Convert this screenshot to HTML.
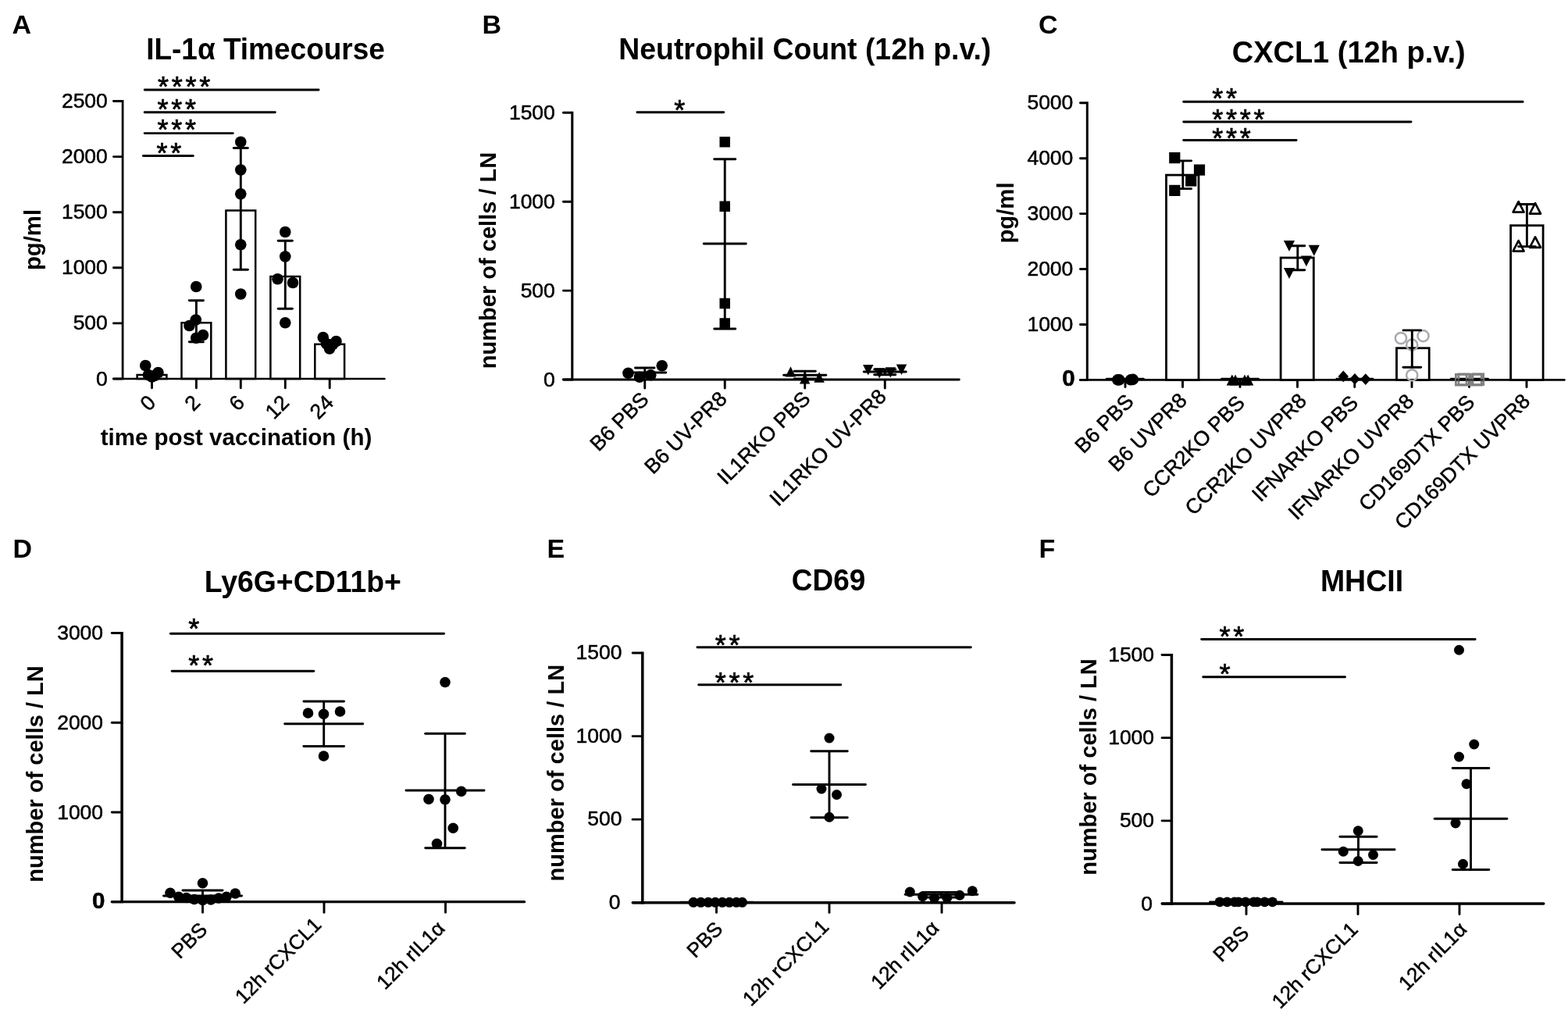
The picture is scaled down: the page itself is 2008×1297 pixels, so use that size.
<!DOCTYPE html>
<html lang="en"><head><meta charset="utf-8"><title>Figure</title>
<style>
html,body{margin:0;padding:0;background:#fff;}
body{width:2008px;height:1297px;overflow:hidden;}
svg{display:block;font-family:"Liberation Sans",Arial,Helvetica,sans-serif;fill:#000;}
</style></head><body>
<svg width="2008" height="1297" viewBox="0 0 2008 1297">
<rect x="0" y="0" width="2008" height="1297" fill="#fff"/>
<text transform="translate(15.50 42.50) scale(1 1.0)" font-size="34" font-weight="bold" text-anchor="start">A</text>
<text transform="translate(340.00 76.30) scale(1 1.035)" font-size="37" font-weight="bold" text-anchor="middle">IL-1α Timecourse</text>
<rect x="175.60" y="480.00" width="37.80" height="5.00" fill="#fff" stroke="#000" stroke-width="2.5"/>
<rect x="232.50" y="413.25" width="37.80" height="71.75" fill="#fff" stroke="#000" stroke-width="2.5"/>
<rect x="289.40" y="269.50" width="37.80" height="215.50" fill="#fff" stroke="#000" stroke-width="2.5"/>
<rect x="346.40" y="354.00" width="37.80" height="131.00" fill="#fff" stroke="#000" stroke-width="2.5"/>
<rect x="403.30" y="440.75" width="37.80" height="44.25" fill="#fff" stroke="#000" stroke-width="2.5"/>
<line x1="157.10" y1="128.05" x2="157.10" y2="486.30" stroke="#000" stroke-width="2.75" stroke-linecap="butt"/>
<line x1="145.30" y1="485.00" x2="492.45" y2="485.00" stroke="#000" stroke-width="2.6" stroke-linecap="round"/>
<line x1="145.45" y1="485.00" x2="155.65" y2="485.00" stroke="#000" stroke-width="2.9" stroke-linecap="round"/>
<text transform="translate(137.85 493.54) scale(1 1.0)" font-size="26.5" font-weight="normal" text-anchor="end" stroke="#000" stroke-width="0.5">0</text>
<line x1="145.45" y1="413.90" x2="155.65" y2="413.90" stroke="#000" stroke-width="2.9" stroke-linecap="round"/>
<text transform="translate(137.85 422.44) scale(1 1.0)" font-size="26.5" font-weight="normal" text-anchor="end" stroke="#000" stroke-width="0.5">500</text>
<line x1="145.45" y1="342.80" x2="155.65" y2="342.80" stroke="#000" stroke-width="2.9" stroke-linecap="round"/>
<text transform="translate(137.85 351.34) scale(1 1.0)" font-size="26.5" font-weight="normal" text-anchor="end" stroke="#000" stroke-width="0.5">1000</text>
<line x1="145.45" y1="271.70" x2="155.65" y2="271.70" stroke="#000" stroke-width="2.9" stroke-linecap="round"/>
<text transform="translate(137.85 280.24) scale(1 1.0)" font-size="26.5" font-weight="normal" text-anchor="end" stroke="#000" stroke-width="0.5">1500</text>
<line x1="145.45" y1="200.60" x2="155.65" y2="200.60" stroke="#000" stroke-width="2.9" stroke-linecap="round"/>
<text transform="translate(137.85 209.14) scale(1 1.0)" font-size="26.5" font-weight="normal" text-anchor="end" stroke="#000" stroke-width="0.5">2000</text>
<line x1="145.45" y1="129.50" x2="155.65" y2="129.50" stroke="#000" stroke-width="2.9" stroke-linecap="round"/>
<text transform="translate(137.85 138.04) scale(1 1.0)" font-size="26.5" font-weight="normal" text-anchor="end" stroke="#000" stroke-width="0.5">2500</text>
<line x1="194.50" y1="486.45" x2="194.50" y2="496.75" stroke="#000" stroke-width="2.9" stroke-linecap="round"/>
<text transform="translate(201.00 517.00) rotate(-45) scale(1 1.0)" font-size="26.6" font-weight="normal" text-anchor="end" stroke="#000" stroke-width="0.5">0</text>
<line x1="251.40" y1="486.45" x2="251.40" y2="496.75" stroke="#000" stroke-width="2.9" stroke-linecap="round"/>
<text transform="translate(257.90 517.00) rotate(-45) scale(1 1.0)" font-size="26.6" font-weight="normal" text-anchor="end" stroke="#000" stroke-width="0.5">2</text>
<line x1="308.30" y1="486.45" x2="308.30" y2="496.75" stroke="#000" stroke-width="2.9" stroke-linecap="round"/>
<text transform="translate(314.80 517.00) rotate(-45) scale(1 1.0)" font-size="26.6" font-weight="normal" text-anchor="end" stroke="#000" stroke-width="0.5">6</text>
<line x1="365.30" y1="486.45" x2="365.30" y2="496.75" stroke="#000" stroke-width="2.9" stroke-linecap="round"/>
<text transform="translate(371.80 517.00) rotate(-45) scale(1 1.0)" font-size="26.6" font-weight="normal" text-anchor="end" stroke="#000" stroke-width="0.5">12</text>
<line x1="422.20" y1="486.45" x2="422.20" y2="496.75" stroke="#000" stroke-width="2.9" stroke-linecap="round"/>
<text transform="translate(428.70 517.00) rotate(-45) scale(1 1.0)" font-size="26.6" font-weight="normal" text-anchor="end" stroke="#000" stroke-width="0.5">24</text>
<line x1="251.40" y1="386.20" x2="251.40" y2="436.30" stroke="#000" stroke-width="2.9" stroke-linecap="round"/>
<line x1="242.35" y1="384.75" x2="260.45" y2="384.75" stroke="#000" stroke-width="2.9" stroke-linecap="round"/>
<line x1="242.35" y1="437.75" x2="260.45" y2="437.75" stroke="#000" stroke-width="2.9" stroke-linecap="round"/>
<line x1="308.30" y1="190.95" x2="308.30" y2="343.80" stroke="#000" stroke-width="2.9" stroke-linecap="round"/>
<line x1="299.25" y1="189.50" x2="317.35" y2="189.50" stroke="#000" stroke-width="2.9" stroke-linecap="round"/>
<line x1="299.25" y1="345.25" x2="317.35" y2="345.25" stroke="#000" stroke-width="2.9" stroke-linecap="round"/>
<line x1="365.30" y1="309.70" x2="365.30" y2="393.80" stroke="#000" stroke-width="2.9" stroke-linecap="round"/>
<line x1="356.25" y1="308.25" x2="374.35" y2="308.25" stroke="#000" stroke-width="2.9" stroke-linecap="round"/>
<line x1="356.25" y1="395.25" x2="374.35" y2="395.25" stroke="#000" stroke-width="2.9" stroke-linecap="round"/>
<line x1="422.20" y1="437.45" x2="422.20" y2="442.55" stroke="#000" stroke-width="2.9" stroke-linecap="round"/>
<line x1="416.65" y1="436.00" x2="427.75" y2="436.00" stroke="#000" stroke-width="2.9" stroke-linecap="round"/>
<line x1="416.65" y1="444.00" x2="427.75" y2="444.00" stroke="#000" stroke-width="2.9" stroke-linecap="round"/>
<circle cx="186.25" cy="468.00" r="7.3" fill="#000" stroke="none" stroke-width="0"/>
<circle cx="202.50" cy="477.00" r="7.3" fill="#000" stroke="none" stroke-width="0"/>
<circle cx="194.50" cy="482.50" r="7.3" fill="#000" stroke="none" stroke-width="0"/>
<circle cx="190.00" cy="480.00" r="7.3" fill="#000" stroke="none" stroke-width="0"/>
<circle cx="198.00" cy="481.00" r="7.3" fill="#000" stroke="none" stroke-width="0"/>
<circle cx="251.25" cy="367.00" r="7.3" fill="#000" stroke="none" stroke-width="0"/>
<circle cx="250.75" cy="409.50" r="7.3" fill="#000" stroke="none" stroke-width="0"/>
<circle cx="242.50" cy="417.00" r="7.3" fill="#000" stroke="none" stroke-width="0"/>
<circle cx="260.00" cy="429.00" r="7.3" fill="#000" stroke="none" stroke-width="0"/>
<circle cx="251.25" cy="432.75" r="7.3" fill="#000" stroke="none" stroke-width="0"/>
<circle cx="308.25" cy="181.75" r="7.3" fill="#000" stroke="none" stroke-width="0"/>
<circle cx="308.25" cy="217.50" r="7.3" fill="#000" stroke="none" stroke-width="0"/>
<circle cx="308.25" cy="248.25" r="7.3" fill="#000" stroke="none" stroke-width="0"/>
<circle cx="308.25" cy="313.25" r="7.3" fill="#000" stroke="none" stroke-width="0"/>
<circle cx="308.25" cy="376.50" r="7.3" fill="#000" stroke="none" stroke-width="0"/>
<circle cx="365.25" cy="297.00" r="7.3" fill="#000" stroke="none" stroke-width="0"/>
<circle cx="365.25" cy="328.50" r="7.3" fill="#000" stroke="none" stroke-width="0"/>
<circle cx="355.50" cy="357.25" r="7.3" fill="#000" stroke="none" stroke-width="0"/>
<circle cx="375.00" cy="362.00" r="7.3" fill="#000" stroke="none" stroke-width="0"/>
<circle cx="365.25" cy="413.25" r="7.3" fill="#000" stroke="none" stroke-width="0"/>
<circle cx="413.75" cy="432.00" r="7.3" fill="#000" stroke="none" stroke-width="0"/>
<circle cx="430.50" cy="437.00" r="7.3" fill="#000" stroke="none" stroke-width="0"/>
<circle cx="422.00" cy="446.50" r="7.3" fill="#000" stroke="none" stroke-width="0"/>
<circle cx="418.00" cy="440.00" r="7.3" fill="#000" stroke="none" stroke-width="0"/>
<circle cx="426.00" cy="441.00" r="7.3" fill="#000" stroke="none" stroke-width="0"/>
<line x1="185.20" y1="115.00" x2="408.05" y2="115.00" stroke="#000" stroke-width="2.9" stroke-linecap="round"/>
<text transform="translate(201.90 123.75) scale(1 1)" font-size="36" font-weight="normal" text-anchor="start" letter-spacing="3.75" stroke="#000" stroke-width="0.7">****</text>
<line x1="185.20" y1="143.75" x2="352.30" y2="143.75" stroke="#000" stroke-width="2.9" stroke-linecap="round"/>
<text transform="translate(201.40 152.75) scale(1 1)" font-size="36" font-weight="normal" text-anchor="start" letter-spacing="3.75" stroke="#000" stroke-width="0.7">***</text>
<line x1="185.20" y1="170.60" x2="298.25" y2="170.60" stroke="#000" stroke-width="2.9" stroke-linecap="round"/>
<text transform="translate(201.40 179.35) scale(1 1)" font-size="36" font-weight="normal" text-anchor="start" letter-spacing="3.75" stroke="#000" stroke-width="0.7">***</text>
<line x1="183.45" y1="199.50" x2="247.30" y2="199.50" stroke="#000" stroke-width="2.9" stroke-linecap="round"/>
<text transform="translate(200.60 209.40) scale(1 1)" font-size="36" font-weight="normal" text-anchor="start" letter-spacing="3.75" stroke="#000" stroke-width="0.7">**</text>
<text transform="translate(302.50 570.00) scale(1 1.0)" font-size="29.5" font-weight="bold" text-anchor="middle">time post vaccination (h)</text>
<text transform="translate(51.90 307.00) rotate(-90) scale(1 1.0)" font-size="29.3" font-weight="bold" text-anchor="middle">pg/ml</text>
<text transform="translate(617.50 42.50) scale(1 1.0)" font-size="34" font-weight="bold" text-anchor="start">B</text>
<text transform="translate(1030.75 76.30) scale(1 1.035)" font-size="37.4" font-weight="bold" text-anchor="middle">Neutrophil Count (12h p.v.)</text>
<line x1="732.80" y1="142.85" x2="732.80" y2="487.40" stroke="#000" stroke-width="3.1" stroke-linecap="butt"/>
<line x1="721.40" y1="486.00" x2="1228.35" y2="486.00" stroke="#000" stroke-width="2.8" stroke-linecap="round"/>
<line x1="721.45" y1="486.00" x2="731.35" y2="486.00" stroke="#000" stroke-width="2.9" stroke-linecap="round"/>
<text transform="translate(710.85 494.54) scale(1 1.0)" font-size="26.5" font-weight="normal" text-anchor="end" stroke="#000" stroke-width="0.5">0</text>
<line x1="721.45" y1="372.10" x2="731.35" y2="372.10" stroke="#000" stroke-width="2.9" stroke-linecap="round"/>
<text transform="translate(710.85 380.64) scale(1 1.0)" font-size="26.5" font-weight="normal" text-anchor="end" stroke="#000" stroke-width="0.5">500</text>
<line x1="721.45" y1="258.20" x2="731.35" y2="258.20" stroke="#000" stroke-width="2.9" stroke-linecap="round"/>
<text transform="translate(710.85 266.74) scale(1 1.0)" font-size="26.5" font-weight="normal" text-anchor="end" stroke="#000" stroke-width="0.5">1000</text>
<line x1="721.45" y1="144.30" x2="731.35" y2="144.30" stroke="#000" stroke-width="2.9" stroke-linecap="round"/>
<text transform="translate(710.85 152.84) scale(1 1.0)" font-size="26.5" font-weight="normal" text-anchor="end" stroke="#000" stroke-width="0.5">1500</text>
<line x1="825.75" y1="487.45" x2="825.75" y2="497.05" stroke="#000" stroke-width="2.9" stroke-linecap="round"/>
<text transform="translate(832.25 513.20) rotate(-45) scale(1 1.0)" font-size="26.6" font-weight="normal" text-anchor="end" stroke="#000" stroke-width="0.5">B6 PBS</text>
<line x1="928.25" y1="487.45" x2="928.25" y2="497.05" stroke="#000" stroke-width="2.9" stroke-linecap="round"/>
<text transform="translate(932.35 512.20) rotate(-45) scale(1 1.0)" font-size="26.6" font-weight="normal" text-anchor="end" stroke="#000" stroke-width="0.5">B6 UV-PR8</text>
<line x1="1030.75" y1="487.45" x2="1030.75" y2="497.05" stroke="#000" stroke-width="2.9" stroke-linecap="round"/>
<text transform="translate(1039.35 512.10) rotate(-45) scale(1 1.0)" font-size="26.6" font-weight="normal" text-anchor="end" stroke="#000" stroke-width="0.5">IL1RKO PBS</text>
<line x1="1133.25" y1="487.45" x2="1133.25" y2="497.05" stroke="#000" stroke-width="2.9" stroke-linecap="round"/>
<text transform="translate(1136.45 509.40) rotate(-45) scale(1 1.0)" font-size="26.6" font-weight="normal" text-anchor="end" stroke="#000" stroke-width="0.5">IL1RKO UV-PR8</text>
<line x1="825.75" y1="472.45" x2="825.75" y2="481.55" stroke="#000" stroke-width="2.9" stroke-linecap="round"/>
<line x1="813.45" y1="471.00" x2="838.05" y2="471.00" stroke="#000" stroke-width="2.9" stroke-linecap="round"/>
<line x1="813.45" y1="483.00" x2="838.05" y2="483.00" stroke="#000" stroke-width="2.9" stroke-linecap="round"/>
<line x1="798.70" y1="477.00" x2="852.80" y2="477.00" stroke="#000" stroke-width="2.9" stroke-linecap="round"/>
<line x1="928.25" y1="205.20" x2="928.25" y2="419.55" stroke="#000" stroke-width="2.9" stroke-linecap="round"/>
<line x1="914.70" y1="203.75" x2="941.80" y2="203.75" stroke="#000" stroke-width="2.9" stroke-linecap="round"/>
<line x1="914.70" y1="421.00" x2="941.80" y2="421.00" stroke="#000" stroke-width="2.9" stroke-linecap="round"/>
<line x1="901.20" y1="312.00" x2="955.30" y2="312.00" stroke="#000" stroke-width="2.9" stroke-linecap="round"/>
<line x1="1030.75" y1="476.70" x2="1030.75" y2="483.55" stroke="#000" stroke-width="2.9" stroke-linecap="round"/>
<line x1="1017.20" y1="475.25" x2="1044.30" y2="475.25" stroke="#000" stroke-width="2.9" stroke-linecap="round"/>
<line x1="1017.20" y1="485.00" x2="1044.30" y2="485.00" stroke="#000" stroke-width="2.9" stroke-linecap="round"/>
<line x1="1003.70" y1="480.25" x2="1057.80" y2="480.25" stroke="#000" stroke-width="2.9" stroke-linecap="round"/>
<line x1="1133.25" y1="474.45" x2="1133.25" y2="478.35" stroke="#000" stroke-width="2.9" stroke-linecap="round"/>
<line x1="1119.70" y1="473.00" x2="1146.80" y2="473.00" stroke="#000" stroke-width="2.9" stroke-linecap="round"/>
<line x1="1119.70" y1="479.80" x2="1146.80" y2="479.80" stroke="#000" stroke-width="2.9" stroke-linecap="round"/>
<line x1="1106.20" y1="476.00" x2="1160.30" y2="476.00" stroke="#000" stroke-width="2.9" stroke-linecap="round"/>
<circle cx="804.50" cy="477.75" r="7.3" fill="#000" stroke="none" stroke-width="0"/>
<circle cx="847.75" cy="468.25" r="7.3" fill="#000" stroke="none" stroke-width="0"/>
<circle cx="819.00" cy="482.75" r="7.3" fill="#000" stroke="none" stroke-width="0"/>
<circle cx="833.25" cy="480.25" r="7.3" fill="#000" stroke="none" stroke-width="0"/>
<rect x="921.50" y="175.00" width="13.5" height="13.5" fill="#000" stroke="none" stroke-width="0"/>
<rect x="921.50" y="257.50" width="13.5" height="13.5" fill="#000" stroke="none" stroke-width="0"/>
<rect x="921.50" y="381.75" width="13.5" height="13.5" fill="#000" stroke="none" stroke-width="0"/>
<rect x="921.50" y="407.25" width="13.5" height="13.5" fill="#000" stroke="none" stroke-width="0"/>
<polygon points="1012.50,469.20 1019.20,482.60 1005.80,482.60" fill="#000" stroke="none" stroke-width="0" stroke-linejoin="round"/>
<polygon points="1030.70,478.00 1037.40,491.40 1024.00,491.40" fill="#000" stroke="none" stroke-width="0" stroke-linejoin="round"/>
<polygon points="1049.10,476.30 1055.80,489.70 1042.40,489.70" fill="#000" stroke="none" stroke-width="0" stroke-linejoin="round"/>
<polygon points="1111.80,480.50 1118.50,467.10 1105.10,467.10" fill="#000" stroke="none" stroke-width="0"/>
<polygon points="1126.20,484.60 1132.90,471.20 1119.50,471.20" fill="#000" stroke="none" stroke-width="0"/>
<polygon points="1140.40,483.60 1147.10,470.20 1133.70,470.20" fill="#000" stroke="none" stroke-width="0"/>
<polygon points="1154.50,479.90 1161.20,466.50 1147.80,466.50" fill="#000" stroke="none" stroke-width="0"/>
<line x1="815.95" y1="143.75" x2="926.80" y2="143.75" stroke="#000" stroke-width="2.9" stroke-linecap="round"/>
<text transform="translate(863.20 153.75) scale(1 1)" font-size="36" font-weight="normal" text-anchor="start" letter-spacing="3.75" stroke="#000" stroke-width="0.7">*</text>
<text transform="translate(634.90 333.50) rotate(-90) scale(1 1.0)" font-size="29.05" font-weight="bold" text-anchor="middle">number of cells / LN</text>
<text transform="translate(1330.00 43.00) scale(1 1.0)" font-size="34" font-weight="bold" text-anchor="start">C</text>
<text transform="translate(1727.20 79.50) scale(1 1.035)" font-size="38" font-weight="bold" text-anchor="middle">CXCL1 (12h p.v.)</text>
<rect x="1493.50" y="224.10" width="41.50" height="262.30" fill="#fff" stroke="#000" stroke-width="2.8"/>
<rect x="1640.10" y="330.00" width="42.20" height="156.40" fill="#fff" stroke="#000" stroke-width="2.8"/>
<rect x="1788.50" y="445.70" width="41.70" height="40.70" fill="#fff" stroke="#000" stroke-width="2.8"/>
<rect x="1934.60" y="288.70" width="41.50" height="197.70" fill="#fff" stroke="#000" stroke-width="2.8"/>
<line x1="1392.30" y1="130.30" x2="1392.30" y2="487.70" stroke="#000" stroke-width="3.0" stroke-linecap="butt"/>
<line x1="1383.30" y1="486.40" x2="2003.40" y2="486.40" stroke="#000" stroke-width="2.6" stroke-linecap="round"/>
<line x1="1383.45" y1="486.40" x2="1390.85" y2="486.40" stroke="#000" stroke-width="2.9" stroke-linecap="round"/>
<text transform="translate(1376.65 494.38) scale(1 1.0)" font-size="29.5" font-weight="bold" text-anchor="end" stroke="#000" stroke-width="0.6">0</text>
<line x1="1383.45" y1="415.47" x2="1390.85" y2="415.47" stroke="#000" stroke-width="2.9" stroke-linecap="round"/>
<text transform="translate(1374.35 424.01) scale(1 1.0)" font-size="26.5" font-weight="normal" text-anchor="end" stroke="#000" stroke-width="0.5">1000</text>
<line x1="1383.45" y1="344.54" x2="1390.85" y2="344.54" stroke="#000" stroke-width="2.9" stroke-linecap="round"/>
<text transform="translate(1374.35 353.08) scale(1 1.0)" font-size="26.5" font-weight="normal" text-anchor="end" stroke="#000" stroke-width="0.5">2000</text>
<line x1="1383.45" y1="273.61" x2="1390.85" y2="273.61" stroke="#000" stroke-width="2.9" stroke-linecap="round"/>
<text transform="translate(1374.35 282.15) scale(1 1.0)" font-size="26.5" font-weight="normal" text-anchor="end" stroke="#000" stroke-width="0.5">3000</text>
<line x1="1383.45" y1="202.68" x2="1390.85" y2="202.68" stroke="#000" stroke-width="2.9" stroke-linecap="round"/>
<text transform="translate(1374.35 211.22) scale(1 1.0)" font-size="26.5" font-weight="normal" text-anchor="end" stroke="#000" stroke-width="0.5">4000</text>
<line x1="1383.45" y1="131.75" x2="1390.85" y2="131.75" stroke="#000" stroke-width="2.9" stroke-linecap="round"/>
<text transform="translate(1374.35 140.29) scale(1 1.0)" font-size="26.5" font-weight="normal" text-anchor="end" stroke="#000" stroke-width="0.5">5000</text>
<line x1="1441.00" y1="487.85" x2="1441.00" y2="495.55" stroke="#000" stroke-width="2.9" stroke-linecap="round"/>
<text transform="translate(1453.25 515.80) rotate(-45) scale(1 1.0)" font-size="26.6" font-weight="normal" text-anchor="end" stroke="#000" stroke-width="0.5">B6 PBS</text>
<line x1="1514.50" y1="487.85" x2="1514.50" y2="495.55" stroke="#000" stroke-width="2.9" stroke-linecap="round"/>
<text transform="translate(1521.50 514.20) rotate(-45) scale(1 1.0)" font-size="26.6" font-weight="normal" text-anchor="end" stroke="#000" stroke-width="0.5">B6 UVPR8</text>
<line x1="1588.00" y1="487.85" x2="1588.00" y2="495.55" stroke="#000" stroke-width="2.9" stroke-linecap="round"/>
<text transform="translate(1595.50 517.40) rotate(-45) scale(1 1.0)" font-size="26.6" font-weight="normal" text-anchor="end" stroke="#000" stroke-width="0.5">CCR2KO PBS</text>
<line x1="1661.50" y1="487.85" x2="1661.50" y2="495.55" stroke="#000" stroke-width="2.9" stroke-linecap="round"/>
<text transform="translate(1674.80 514.70) rotate(-45) scale(1 1.0)" font-size="26.6" font-weight="normal" text-anchor="end" stroke="#000" stroke-width="0.5">CCR2KO UVPR8</text>
<line x1="1734.75" y1="487.85" x2="1734.75" y2="495.55" stroke="#000" stroke-width="2.9" stroke-linecap="round"/>
<text transform="translate(1740.75 517.40) rotate(-45) scale(1 1.0)" font-size="26.6" font-weight="normal" text-anchor="end" stroke="#000" stroke-width="0.5">IFNARKO PBS</text>
<line x1="1808.00" y1="487.85" x2="1808.00" y2="495.55" stroke="#000" stroke-width="2.9" stroke-linecap="round"/>
<text transform="translate(1812.20 515.60) rotate(-45) scale(1 1.0)" font-size="26.6" font-weight="normal" text-anchor="end" stroke="#000" stroke-width="0.5">IFNARKO UVPR8</text>
<line x1="1881.50" y1="487.85" x2="1881.50" y2="495.55" stroke="#000" stroke-width="2.9" stroke-linecap="round"/>
<text transform="translate(1890.10 516.80) rotate(-45) scale(1 1.0)" font-size="26.6" font-weight="normal" text-anchor="end" stroke="#000" stroke-width="0.5">CD169DTX PBS</text>
<line x1="1955.00" y1="487.85" x2="1955.00" y2="495.55" stroke="#000" stroke-width="2.9" stroke-linecap="round"/>
<text transform="translate(1961.00 515.30) rotate(-45) scale(1 1.0)" font-size="26.6" font-weight="normal" text-anchor="end" stroke="#000" stroke-width="0.5">CD169DTX UVPR8</text>
<circle cx="1793.95" cy="433.00" r="7.1" fill="none" stroke="#a9a9ad" stroke-width="2.5"/>
<circle cx="1822.50" cy="430.20" r="7.1" fill="none" stroke="#a9a9ad" stroke-width="2.5"/>
<circle cx="1808.20" cy="441.70" r="7.1" fill="none" stroke="#a9a9ad" stroke-width="2.5"/>
<circle cx="1808.20" cy="480.40" r="7.1" fill="none" stroke="#a9a9ad" stroke-width="2.5"/>
<line x1="1514.80" y1="207.35" x2="1514.80" y2="240.20" stroke="#000" stroke-width="2.9" stroke-linecap="round"/>
<line x1="1504.00" y1="205.90" x2="1525.60" y2="205.90" stroke="#000" stroke-width="2.9" stroke-linecap="round"/>
<line x1="1504.00" y1="241.65" x2="1525.60" y2="241.65" stroke="#000" stroke-width="2.9" stroke-linecap="round"/>
<line x1="1661.80" y1="316.20" x2="1661.80" y2="344.35" stroke="#000" stroke-width="2.9" stroke-linecap="round"/>
<line x1="1652.75" y1="314.75" x2="1670.85" y2="314.75" stroke="#000" stroke-width="2.9" stroke-linecap="round"/>
<line x1="1652.75" y1="345.80" x2="1670.85" y2="345.80" stroke="#000" stroke-width="2.9" stroke-linecap="round"/>
<line x1="1808.30" y1="424.35" x2="1808.30" y2="468.85" stroke="#000" stroke-width="2.9" stroke-linecap="round"/>
<line x1="1797.00" y1="422.90" x2="1819.60" y2="422.90" stroke="#000" stroke-width="2.9" stroke-linecap="round"/>
<line x1="1797.00" y1="470.30" x2="1819.60" y2="470.30" stroke="#000" stroke-width="2.9" stroke-linecap="round"/>
<line x1="1955.40" y1="263.00" x2="1955.40" y2="314.15" stroke="#000" stroke-width="2.9" stroke-linecap="round"/>
<line x1="1944.60" y1="261.55" x2="1966.20" y2="261.55" stroke="#000" stroke-width="2.9" stroke-linecap="round"/>
<line x1="1944.60" y1="315.60" x2="1966.20" y2="315.60" stroke="#000" stroke-width="2.9" stroke-linecap="round"/>
<line x1="1417.15" y1="485.30" x2="1464.45" y2="485.30" stroke="#000" stroke-width="2.9" stroke-linecap="round"/>
<line x1="1564.45" y1="485.30" x2="1611.55" y2="485.30" stroke="#000" stroke-width="2.9" stroke-linecap="round"/>
<line x1="1711.85" y1="485.30" x2="1758.05" y2="485.30" stroke="#000" stroke-width="2.9" stroke-linecap="round"/>
<line x1="1858.15" y1="485.30" x2="1905.55" y2="485.30" stroke="#000" stroke-width="2.9" stroke-linecap="round"/>
<circle cx="1431.30" cy="486.40" r="7.3" fill="#000" stroke="none" stroke-width="0"/>
<circle cx="1433.30" cy="486.40" r="7.3" fill="#000" stroke="none" stroke-width="0"/>
<circle cx="1448.10" cy="486.30" r="7.3" fill="#000" stroke="none" stroke-width="0"/>
<circle cx="1450.80" cy="485.90" r="7.3" fill="#000" stroke="none" stroke-width="0"/>
<rect x="1497.20" y="195.00" width="14.2" height="14.2" fill="#000" stroke="none" stroke-width="0"/>
<rect x="1528.90" y="210.50" width="14.2" height="14.2" fill="#000" stroke="none" stroke-width="0"/>
<rect x="1518.10" y="224.40" width="14.2" height="14.2" fill="#000" stroke="none" stroke-width="0"/>
<rect x="1497.20" y="236.80" width="14.2" height="14.2" fill="#000" stroke="none" stroke-width="0"/>
<polygon points="1577.80,479.55 1584.90,493.45 1570.70,493.45" fill="#000" stroke="none" stroke-width="0" stroke-linejoin="round"/>
<polygon points="1582.00,479.55 1589.10,493.45 1574.90,493.45" fill="#000" stroke="none" stroke-width="0" stroke-linejoin="round"/>
<polygon points="1594.00,479.55 1601.10,493.45 1586.90,493.45" fill="#000" stroke="none" stroke-width="0" stroke-linejoin="round"/>
<polygon points="1598.20,479.55 1605.30,493.45 1591.10,493.45" fill="#000" stroke="none" stroke-width="0" stroke-linejoin="round"/>
<polygon points="1651.00,321.95 1658.10,308.05 1643.90,308.05" fill="#000" stroke="none" stroke-width="0"/>
<polygon points="1682.80,327.65 1689.90,313.75 1675.70,313.75" fill="#000" stroke="none" stroke-width="0"/>
<polygon points="1672.90,341.35 1680.00,327.45 1665.80,327.45" fill="#000" stroke="none" stroke-width="0"/>
<polygon points="1651.00,356.95 1658.10,343.05 1643.90,343.05" fill="#000" stroke="none" stroke-width="0"/>
<polygon points="1720.30,474.60 1727.00,481.90 1720.30,489.20 1713.60,481.90" fill="#000"/>
<polygon points="1735.00,477.90 1741.70,485.20 1735.00,492.50 1728.30,485.20" fill="#000"/>
<polygon points="1748.80,478.30 1755.50,485.60 1748.80,492.90 1742.10,485.60" fill="#000"/>
<rect x="1864.40" y="479.35" width="13.7" height="13.7" fill="none" stroke="#808080" stroke-width="2.8"/>
<rect x="1867.90" y="478.95" width="13.7" height="13.7" fill="none" stroke="#808080" stroke-width="2.8"/>
<rect x="1883.50" y="479.35" width="13.7" height="13.7" fill="none" stroke="#808080" stroke-width="2.8"/>
<rect x="1886.00" y="478.85" width="13.7" height="13.7" fill="none" stroke="#808080" stroke-width="2.8"/>
<line x1="1864" y1="486.4" x2="1900" y2="486.4" stroke="#000" stroke-width="2.9" opacity="0.55"/>
<polygon points="1944.60,258.03 1951.60,271.57 1937.60,271.57" fill="none" stroke="#000" stroke-width="2.65" stroke-linejoin="round"/>
<polygon points="1966.00,260.12 1973.00,273.67 1959.00,273.67" fill="none" stroke="#000" stroke-width="2.65" stroke-linejoin="round"/>
<polygon points="1944.60,308.03 1951.60,321.57 1937.60,321.57" fill="none" stroke="#000" stroke-width="2.65" stroke-linejoin="round"/>
<polygon points="1966.00,303.33 1973.00,316.88 1959.00,316.88" fill="none" stroke="#000" stroke-width="2.65" stroke-linejoin="round"/>
<line x1="1515.70" y1="130.25" x2="1950.05" y2="130.25" stroke="#000" stroke-width="2.9" stroke-linecap="round"/>
<text transform="translate(1552.20 139.00) scale(1 1)" font-size="36" font-weight="normal" text-anchor="start" letter-spacing="3.75" stroke="#000" stroke-width="0.7">**</text>
<line x1="1515.70" y1="156.00" x2="1807.05" y2="156.00" stroke="#000" stroke-width="2.9" stroke-linecap="round"/>
<text transform="translate(1552.20 165.90) scale(1 1)" font-size="36" font-weight="normal" text-anchor="start" letter-spacing="3.75" stroke="#000" stroke-width="0.7">****</text>
<line x1="1515.70" y1="179.50" x2="1660.05" y2="179.50" stroke="#000" stroke-width="2.9" stroke-linecap="round"/>
<text transform="translate(1552.20 189.65) scale(1 1)" font-size="36" font-weight="normal" text-anchor="start" letter-spacing="3.75" stroke="#000" stroke-width="0.7">***</text>
<text transform="translate(1297.60 272.50) rotate(-90) scale(1 1.0)" font-size="29.3" font-weight="bold" text-anchor="middle">pg/ml</text>
<text transform="translate(16.50 714.25) scale(1 1.0)" font-size="34" font-weight="bold" text-anchor="start">D</text>
<text transform="translate(387.80 758.00) scale(1 1.035)" font-size="37.4" font-weight="bold" text-anchor="middle">Ly6G+CD11b+</text>
<line x1="156.10" y1="809.05" x2="156.10" y2="1156.35" stroke="#000" stroke-width="3.5" stroke-linecap="butt"/>
<line x1="143.45" y1="1154.70" x2="671.60" y2="1154.70" stroke="#000" stroke-width="3.3" stroke-linecap="round"/>
<line x1="143.25" y1="1154.70" x2="154.65" y2="1154.70" stroke="#000" stroke-width="2.9" stroke-linecap="round"/>
<text transform="translate(134.40 1162.68) scale(1 1.0)" font-size="29.5" font-weight="bold" text-anchor="end" stroke="#000" stroke-width="0.6">0</text>
<line x1="143.25" y1="1039.97" x2="154.65" y2="1039.97" stroke="#000" stroke-width="2.9" stroke-linecap="round"/>
<text transform="translate(132.10 1048.51) scale(1 1.0)" font-size="26.5" font-weight="normal" text-anchor="end" stroke="#000" stroke-width="0.5">1000</text>
<line x1="143.25" y1="925.24" x2="154.65" y2="925.24" stroke="#000" stroke-width="2.9" stroke-linecap="round"/>
<text transform="translate(132.10 933.78) scale(1 1.0)" font-size="26.5" font-weight="normal" text-anchor="end" stroke="#000" stroke-width="0.5">2000</text>
<line x1="143.25" y1="810.51" x2="154.65" y2="810.51" stroke="#000" stroke-width="2.9" stroke-linecap="round"/>
<text transform="translate(132.10 819.05) scale(1 1.0)" font-size="26.5" font-weight="normal" text-anchor="end" stroke="#000" stroke-width="0.5">3000</text>
<line x1="259.50" y1="1156.15" x2="259.50" y2="1168.25" stroke="#000" stroke-width="2.9" stroke-linecap="round"/>
<text transform="translate(267.00 1191.90) rotate(-45) scale(1 1.0)" font-size="26.0" font-weight="normal" text-anchor="end" stroke="#000" stroke-width="0.5">PBS</text>
<line x1="415.00" y1="1156.15" x2="415.00" y2="1168.25" stroke="#000" stroke-width="2.9" stroke-linecap="round"/>
<text transform="translate(413.00 1185.40) rotate(-45) scale(1 1.0)" font-size="26.0" font-weight="normal" text-anchor="end" stroke="#000" stroke-width="0.5">12h rCXCL1</text>
<line x1="570.50" y1="1156.15" x2="570.50" y2="1168.25" stroke="#000" stroke-width="2.9" stroke-linecap="round"/>
<text transform="translate(571.20 1190.20) rotate(-45) scale(1 1.0)" font-size="26.0" font-weight="normal" text-anchor="end" stroke="#000" stroke-width="0.5">12h rIL1α</text>
<line x1="259.50" y1="1141.45" x2="259.50" y2="1151.55" stroke="#000" stroke-width="2.9" stroke-linecap="round"/>
<line x1="233.95" y1="1140.00" x2="285.05" y2="1140.00" stroke="#000" stroke-width="2.9" stroke-linecap="round"/>
<line x1="233.95" y1="1153.00" x2="285.05" y2="1153.00" stroke="#000" stroke-width="2.9" stroke-linecap="round"/>
<line x1="209.45" y1="1147.00" x2="309.55" y2="1147.00" stroke="#000" stroke-width="2.9" stroke-linecap="round"/>
<line x1="414.70" y1="899.45" x2="414.70" y2="954.05" stroke="#000" stroke-width="2.9" stroke-linecap="round"/>
<line x1="388.90" y1="898.00" x2="440.50" y2="898.00" stroke="#000" stroke-width="2.9" stroke-linecap="round"/>
<line x1="388.90" y1="955.50" x2="440.50" y2="955.50" stroke="#000" stroke-width="2.9" stroke-linecap="round"/>
<line x1="364.65" y1="926.75" x2="464.75" y2="926.75" stroke="#000" stroke-width="2.9" stroke-linecap="round"/>
<line x1="570.00" y1="940.70" x2="570.00" y2="1084.30" stroke="#000" stroke-width="2.9" stroke-linecap="round"/>
<line x1="544.70" y1="939.25" x2="595.30" y2="939.25" stroke="#000" stroke-width="2.9" stroke-linecap="round"/>
<line x1="544.70" y1="1085.75" x2="595.30" y2="1085.75" stroke="#000" stroke-width="2.9" stroke-linecap="round"/>
<line x1="519.95" y1="1012.00" x2="620.05" y2="1012.00" stroke="#000" stroke-width="2.9" stroke-linecap="round"/>
<circle cx="259.50" cy="1130.75" r="6.8" fill="#000" stroke="none" stroke-width="0"/>
<circle cx="218.00" cy="1143.25" r="6.8" fill="#000" stroke="none" stroke-width="0"/>
<circle cx="301.25" cy="1144.00" r="6.8" fill="#000" stroke="none" stroke-width="0"/>
<circle cx="228.75" cy="1148.25" r="6.8" fill="#000" stroke="none" stroke-width="0"/>
<circle cx="238.75" cy="1149.50" r="6.8" fill="#000" stroke="none" stroke-width="0"/>
<circle cx="248.75" cy="1151.50" r="6.8" fill="#000" stroke="none" stroke-width="0"/>
<circle cx="259.50" cy="1152.50" r="6.8" fill="#000" stroke="none" stroke-width="0"/>
<circle cx="270.00" cy="1152.00" r="6.8" fill="#000" stroke="none" stroke-width="0"/>
<circle cx="280.00" cy="1150.00" r="6.8" fill="#000" stroke="none" stroke-width="0"/>
<circle cx="290.00" cy="1148.25" r="6.8" fill="#000" stroke="none" stroke-width="0"/>
<circle cx="394.50" cy="913.00" r="6.8" fill="#000" stroke="none" stroke-width="0"/>
<circle cx="414.50" cy="914.25" r="6.8" fill="#000" stroke="none" stroke-width="0"/>
<circle cx="435.50" cy="911.00" r="6.8" fill="#000" stroke="none" stroke-width="0"/>
<circle cx="414.50" cy="968.00" r="6.8" fill="#000" stroke="none" stroke-width="0"/>
<circle cx="570.00" cy="873.50" r="6.8" fill="#000" stroke="none" stroke-width="0"/>
<circle cx="549.00" cy="1023.25" r="6.8" fill="#000" stroke="none" stroke-width="0"/>
<circle cx="570.00" cy="1023.75" r="6.8" fill="#000" stroke="none" stroke-width="0"/>
<circle cx="590.75" cy="1013.25" r="6.8" fill="#000" stroke="none" stroke-width="0"/>
<circle cx="580.25" cy="1060.25" r="6.8" fill="#000" stroke="none" stroke-width="0"/>
<circle cx="559.50" cy="1080.25" r="6.8" fill="#000" stroke="none" stroke-width="0"/>
<line x1="218.45" y1="811.25" x2="568.55" y2="811.25" stroke="#000" stroke-width="2.9" stroke-linecap="round"/>
<text transform="translate(241.20 818.15) scale(1 1)" font-size="36" font-weight="normal" text-anchor="start" letter-spacing="3.75" stroke="#000" stroke-width="0.7">*</text>
<line x1="220.20" y1="859.25" x2="401.80" y2="859.25" stroke="#000" stroke-width="2.9" stroke-linecap="round"/>
<text transform="translate(241.20 864.55) scale(1 1)" font-size="36" font-weight="normal" text-anchor="start" letter-spacing="3.75" stroke="#000" stroke-width="0.7">**</text>
<text transform="translate(54.90 991.00) rotate(-90) scale(1 1.0)" font-size="29.05" font-weight="bold" text-anchor="middle">number of cells / LN</text>
<text transform="translate(700.50 714.25) scale(1 1.0)" font-size="34" font-weight="bold" text-anchor="start">E</text>
<text transform="translate(1061.00 755.50) scale(1 1.035)" font-size="37" font-weight="bold" text-anchor="middle">CD69</text>
<line x1="822.80" y1="834.55" x2="822.80" y2="1157.40" stroke="#000" stroke-width="3.5" stroke-linecap="butt"/>
<line x1="810.35" y1="1155.75" x2="1299.10" y2="1155.75" stroke="#000" stroke-width="3.3" stroke-linecap="round"/>
<line x1="810.15" y1="1155.75" x2="821.35" y2="1155.75" stroke="#000" stroke-width="2.9" stroke-linecap="round"/>
<text transform="translate(794.40 1163.69) scale(1 1.0)" font-size="26.5" font-weight="normal" text-anchor="end" stroke="#000" stroke-width="0.5">0</text>
<line x1="810.15" y1="1049.17" x2="821.35" y2="1049.17" stroke="#000" stroke-width="2.9" stroke-linecap="round"/>
<text transform="translate(796.40 1057.11) scale(1 1.0)" font-size="26.5" font-weight="normal" text-anchor="end" stroke="#000" stroke-width="0.5">500</text>
<line x1="810.15" y1="942.59" x2="821.35" y2="942.59" stroke="#000" stroke-width="2.9" stroke-linecap="round"/>
<text transform="translate(796.40 950.53) scale(1 1.0)" font-size="26.5" font-weight="normal" text-anchor="end" stroke="#000" stroke-width="0.5">1000</text>
<line x1="810.15" y1="836.01" x2="821.35" y2="836.01" stroke="#000" stroke-width="2.9" stroke-linecap="round"/>
<text transform="translate(796.40 843.95) scale(1 1.0)" font-size="26.5" font-weight="normal" text-anchor="end" stroke="#000" stroke-width="0.5">1500</text>
<line x1="917.50" y1="1157.20" x2="917.50" y2="1168.40" stroke="#000" stroke-width="2.9" stroke-linecap="round"/>
<text transform="translate(927.00 1191.05) rotate(-45) scale(1 1.0)" font-size="26.0" font-weight="normal" text-anchor="end" stroke="#000" stroke-width="0.5">PBS</text>
<line x1="1062.00" y1="1157.20" x2="1062.00" y2="1168.40" stroke="#000" stroke-width="2.9" stroke-linecap="round"/>
<text transform="translate(1063.00 1188.25) rotate(-45) scale(1 1.0)" font-size="26.0" font-weight="normal" text-anchor="end" stroke="#000" stroke-width="0.5">12h rCXCL1</text>
<line x1="1206.00" y1="1157.20" x2="1206.00" y2="1168.40" stroke="#000" stroke-width="2.9" stroke-linecap="round"/>
<text transform="translate(1204.00 1189.95) rotate(-45) scale(1 1.0)" font-size="26.0" font-weight="normal" text-anchor="end" stroke="#000" stroke-width="0.5">12h rIL1α</text>
<line x1="871.45" y1="1155.25" x2="964.55" y2="1155.25" stroke="#000" stroke-width="2.9" stroke-linecap="round"/>
<line x1="1062.00" y1="963.20" x2="1062.00" y2="1045.30" stroke="#000" stroke-width="2.9" stroke-linecap="round"/>
<line x1="1038.70" y1="961.75" x2="1085.30" y2="961.75" stroke="#000" stroke-width="2.9" stroke-linecap="round"/>
<line x1="1038.70" y1="1046.75" x2="1085.30" y2="1046.75" stroke="#000" stroke-width="2.9" stroke-linecap="round"/>
<line x1="1015.58" y1="1004.50" x2="1108.42" y2="1004.50" stroke="#000" stroke-width="2.9" stroke-linecap="round"/>
<line x1="1205.50" y1="1143.85" x2="1205.50" y2="1147.55" stroke="#000" stroke-width="2.9" stroke-linecap="round"/>
<line x1="1181.45" y1="1142.40" x2="1229.55" y2="1142.40" stroke="#000" stroke-width="2.9" stroke-linecap="round"/>
<line x1="1181.45" y1="1149.00" x2="1229.55" y2="1149.00" stroke="#000" stroke-width="2.9" stroke-linecap="round"/>
<line x1="1159.20" y1="1145.25" x2="1251.80" y2="1145.25" stroke="#000" stroke-width="2.9" stroke-linecap="round"/>
<circle cx="888.00" cy="1155.30" r="6.5" fill="#000" stroke="none" stroke-width="0"/>
<circle cx="897.50" cy="1155.30" r="6.5" fill="#000" stroke="none" stroke-width="0"/>
<circle cx="907.00" cy="1155.30" r="6.5" fill="#000" stroke="none" stroke-width="0"/>
<circle cx="916.00" cy="1155.30" r="6.5" fill="#000" stroke="none" stroke-width="0"/>
<circle cx="925.00" cy="1155.30" r="6.5" fill="#000" stroke="none" stroke-width="0"/>
<circle cx="934.00" cy="1155.30" r="6.5" fill="#000" stroke="none" stroke-width="0"/>
<circle cx="943.00" cy="1155.30" r="6.5" fill="#000" stroke="none" stroke-width="0"/>
<circle cx="950.50" cy="1155.30" r="6.5" fill="#000" stroke="none" stroke-width="0"/>
<circle cx="1062.00" cy="945.00" r="6.5" fill="#000" stroke="none" stroke-width="0"/>
<circle cx="1052.00" cy="1010.00" r="6.5" fill="#000" stroke="none" stroke-width="0"/>
<circle cx="1071.50" cy="1017.50" r="6.5" fill="#000" stroke="none" stroke-width="0"/>
<circle cx="1062.00" cy="1046.25" r="6.5" fill="#000" stroke="none" stroke-width="0"/>
<circle cx="1165.25" cy="1142.00" r="6.5" fill="#000" stroke="none" stroke-width="0"/>
<circle cx="1245.25" cy="1140.75" r="6.5" fill="#000" stroke="none" stroke-width="0"/>
<circle cx="1181.50" cy="1147.75" r="6.5" fill="#000" stroke="none" stroke-width="0"/>
<circle cx="1229.00" cy="1146.25" r="6.5" fill="#000" stroke="none" stroke-width="0"/>
<circle cx="1196.50" cy="1150.00" r="6.5" fill="#000" stroke="none" stroke-width="0"/>
<circle cx="1212.75" cy="1149.50" r="6.5" fill="#000" stroke="none" stroke-width="0"/>
<line x1="892.95" y1="828.75" x2="1243.30" y2="828.75" stroke="#000" stroke-width="2.9" stroke-linecap="round"/>
<text transform="translate(915.70 838.90) scale(1 1)" font-size="36" font-weight="normal" text-anchor="start" letter-spacing="3.75" stroke="#000" stroke-width="0.7">**</text>
<line x1="894.70" y1="876.75" x2="1076.80" y2="876.75" stroke="#000" stroke-width="2.9" stroke-linecap="round"/>
<text transform="translate(915.70 887.05) scale(1 1)" font-size="36" font-weight="normal" text-anchor="start" letter-spacing="3.75" stroke="#000" stroke-width="0.7">***</text>
<text transform="translate(722.40 989.70) rotate(-90) scale(1 1.0)" font-size="29.05" font-weight="bold" text-anchor="middle">number of cells / LN</text>
<text transform="translate(1330.50 714.25) scale(1 1.0)" font-size="34" font-weight="bold" text-anchor="start">F</text>
<text transform="translate(1744.00 757.25) scale(1 1.035)" font-size="37.5" font-weight="bold" text-anchor="middle">MHCII</text>
<line x1="1500.40" y1="837.05" x2="1500.40" y2="1158.65" stroke="#000" stroke-width="3.5" stroke-linecap="butt"/>
<line x1="1488.25" y1="1157.00" x2="1976.85" y2="1157.00" stroke="#000" stroke-width="3.3" stroke-linecap="round"/>
<line x1="1488.05" y1="1157.00" x2="1498.95" y2="1157.00" stroke="#000" stroke-width="2.9" stroke-linecap="round"/>
<text transform="translate(1476.10 1165.54) scale(1 1.0)" font-size="26.5" font-weight="normal" text-anchor="end" stroke="#000" stroke-width="0.5">0</text>
<line x1="1488.05" y1="1050.83" x2="1498.95" y2="1050.83" stroke="#000" stroke-width="2.9" stroke-linecap="round"/>
<text transform="translate(1478.10 1059.37) scale(1 1.0)" font-size="26.5" font-weight="normal" text-anchor="end" stroke="#000" stroke-width="0.5">500</text>
<line x1="1488.05" y1="944.66" x2="1498.95" y2="944.66" stroke="#000" stroke-width="2.9" stroke-linecap="round"/>
<text transform="translate(1478.10 953.20) scale(1 1.0)" font-size="26.5" font-weight="normal" text-anchor="end" stroke="#000" stroke-width="0.5">1000</text>
<line x1="1488.05" y1="838.49" x2="1498.95" y2="838.49" stroke="#000" stroke-width="2.9" stroke-linecap="round"/>
<text transform="translate(1478.10 847.03) scale(1 1.0)" font-size="26.5" font-weight="normal" text-anchor="end" stroke="#000" stroke-width="0.5">1500</text>
<line x1="1596.00" y1="1158.45" x2="1596.00" y2="1170.55" stroke="#000" stroke-width="2.9" stroke-linecap="round"/>
<text transform="translate(1601.00 1196.20) rotate(-45) scale(1 1.0)" font-size="26.0" font-weight="normal" text-anchor="end" stroke="#000" stroke-width="0.5">PBS</text>
<line x1="1739.00" y1="1158.45" x2="1739.00" y2="1170.55" stroke="#000" stroke-width="2.9" stroke-linecap="round"/>
<text transform="translate(1740.60 1191.50) rotate(-45) scale(1 1.0)" font-size="26.0" font-weight="normal" text-anchor="end" stroke="#000" stroke-width="0.5">12h rCXCL1</text>
<line x1="1869.00" y1="1158.45" x2="1869.00" y2="1170.55" stroke="#000" stroke-width="2.9" stroke-linecap="round"/>
<text transform="translate(1879.90 1191.40) rotate(-45) scale(1 1.0)" font-size="26.0" font-weight="normal" text-anchor="end" stroke="#000" stroke-width="0.5">12h rIL1α</text>
<line x1="1549.45" y1="1155.00" x2="1642.05" y2="1155.00" stroke="#000" stroke-width="2.9" stroke-linecap="round"/>
<line x1="1739.50" y1="1072.70" x2="1739.50" y2="1103.05" stroke="#000" stroke-width="2.9" stroke-linecap="round"/>
<line x1="1715.95" y1="1071.25" x2="1763.05" y2="1071.25" stroke="#000" stroke-width="2.9" stroke-linecap="round"/>
<line x1="1715.95" y1="1104.50" x2="1763.05" y2="1104.50" stroke="#000" stroke-width="2.9" stroke-linecap="round"/>
<line x1="1692.95" y1="1087.75" x2="1786.05" y2="1087.75" stroke="#000" stroke-width="2.9" stroke-linecap="round"/>
<line x1="1883.50" y1="984.95" x2="1883.50" y2="1112.05" stroke="#000" stroke-width="2.9" stroke-linecap="round"/>
<line x1="1860.20" y1="983.50" x2="1906.80" y2="983.50" stroke="#000" stroke-width="2.9" stroke-linecap="round"/>
<line x1="1860.20" y1="1113.50" x2="1906.80" y2="1113.50" stroke="#000" stroke-width="2.9" stroke-linecap="round"/>
<line x1="1837.20" y1="1048.25" x2="1929.80" y2="1048.25" stroke="#000" stroke-width="2.9" stroke-linecap="round"/>
<circle cx="1562.00" cy="1154.80" r="6.4" fill="#000" stroke="none" stroke-width="0"/>
<circle cx="1571.50" cy="1154.80" r="6.4" fill="#000" stroke="none" stroke-width="0"/>
<circle cx="1581.00" cy="1154.80" r="6.4" fill="#000" stroke="none" stroke-width="0"/>
<circle cx="1586.00" cy="1154.80" r="6.4" fill="#000" stroke="none" stroke-width="0"/>
<circle cx="1595.00" cy="1154.80" r="6.4" fill="#000" stroke="none" stroke-width="0"/>
<circle cx="1605.50" cy="1154.80" r="6.4" fill="#000" stroke="none" stroke-width="0"/>
<circle cx="1610.00" cy="1154.80" r="6.4" fill="#000" stroke="none" stroke-width="0"/>
<circle cx="1619.50" cy="1154.80" r="6.4" fill="#000" stroke="none" stroke-width="0"/>
<circle cx="1629.50" cy="1154.80" r="6.4" fill="#000" stroke="none" stroke-width="0"/>
<circle cx="1739.25" cy="1063.75" r="6.5" fill="#000" stroke="none" stroke-width="0"/>
<circle cx="1720.25" cy="1090.25" r="6.5" fill="#000" stroke="none" stroke-width="0"/>
<circle cx="1758.50" cy="1094.50" r="6.5" fill="#000" stroke="none" stroke-width="0"/>
<circle cx="1739.25" cy="1102.50" r="6.5" fill="#000" stroke="none" stroke-width="0"/>
<circle cx="1868.50" cy="832.25" r="6.5" fill="#000" stroke="none" stroke-width="0"/>
<circle cx="1887.75" cy="953.00" r="6.5" fill="#000" stroke="none" stroke-width="0"/>
<circle cx="1868.50" cy="969.00" r="6.5" fill="#000" stroke="none" stroke-width="0"/>
<circle cx="1878.00" cy="1003.75" r="6.5" fill="#000" stroke="none" stroke-width="0"/>
<circle cx="1864.00" cy="1054.00" r="6.5" fill="#000" stroke="none" stroke-width="0"/>
<circle cx="1873.50" cy="1106.25" r="6.5" fill="#000" stroke="none" stroke-width="0"/>
<line x1="1538.70" y1="818.50" x2="1889.05" y2="818.50" stroke="#000" stroke-width="2.9" stroke-linecap="round"/>
<text transform="translate(1561.50 828.00) scale(1 1)" font-size="36" font-weight="normal" text-anchor="start" letter-spacing="3.75" stroke="#000" stroke-width="0.7">**</text>
<line x1="1540.70" y1="866.75" x2="1722.55" y2="866.75" stroke="#000" stroke-width="2.9" stroke-linecap="round"/>
<text transform="translate(1561.50 876.40) scale(1 1)" font-size="36" font-weight="normal" text-anchor="start" letter-spacing="3.75" stroke="#000" stroke-width="0.7">*</text>
<text transform="translate(1404.40 982.00) rotate(-90) scale(1 1.0)" font-size="29.05" font-weight="bold" text-anchor="middle">number of cells / LN</text>
</svg>
</body></html>
